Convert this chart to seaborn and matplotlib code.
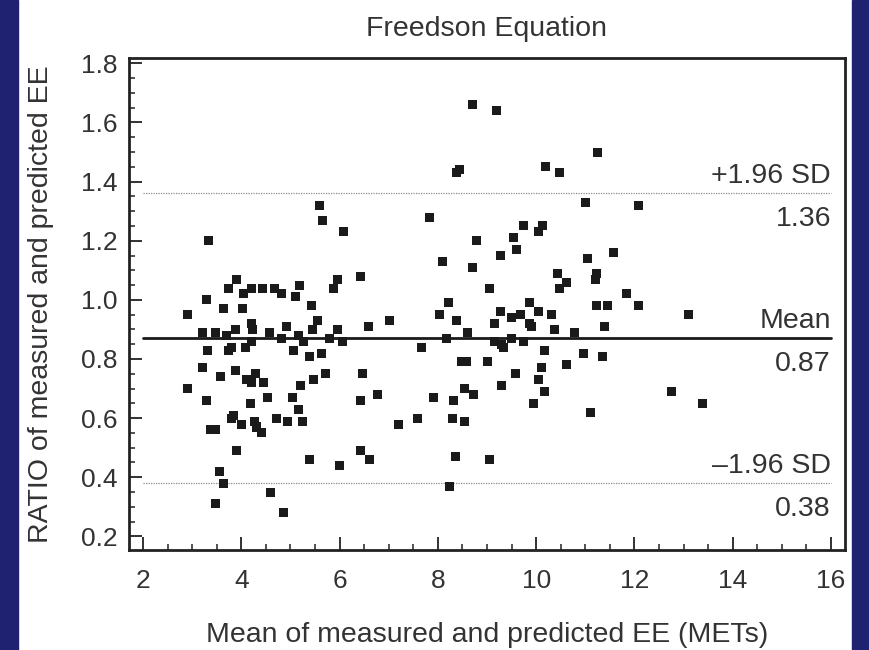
import pandas as pd
import matplotlib.pyplot as plt
import seaborn as sns
from matplotlib.patches import Rectangle
from matplotlib.ticker import MultipleLocator

# Bland-Altman style data: mean of measured/predicted EE (METs) and their ratio
mean_mets = [
    3.34, 5.60, 5.65, 6.07, 6.43, 3.90, 3.74, 4.05, 4.21, 4.44, 4.68, 4.82, 5.18, 5.11, 5.95, 5.88,
    3.30, 2.90, 3.63, 4.02, 5.43, 5.56, 5.44, 4.21, 4.23, 4.91, 3.22, 3.48, 3.70, 3.89, 4.58, 4.82,
    5.16, 5.27, 5.79, 5.95, 6.06, 6.58, 7.02,
    3.73, 3.80, 3.32, 4.09, 4.21, 5.07, 5.38, 5.63, 3.21, 3.89, 3.58, 2.90, 4.11, 4.21, 4.29, 4.46,
    5.72, 5.46, 5.20, 5.05, 4.54, 4.19, 3.30, 6.47, 6.43, 5.16, 5.25, 4.95, 4.72, 3.85, 3.80, 4.01,
    4.27, 4.31, 4.41, 3.37, 3.47, 3.91, 5.39, 5.99, 6.43, 6.60, 3.56, 3.63, 4.59, 3.48, 4.86, 6.78,
    7.19, 7.58, 7.92,
    8.71, 9.19, 11.24, 8.38, 8.45, 10.20, 10.48, 11.00, 7.84, 9.74, 10.13, 10.04, 9.53, 8.79, 9.61,
    9.28, 11.04, 8.10, 8.71, 10.43, 10.61, 10.48, 11.22, 11.20, 9.06, 9.86, 8.21, 10.04, 9.28, 8.04,
    8.37, 9.50, 9.68, 10.31, 11.22, 9.15, 9.87, 9.91, 10.38, 10.79, 8.60, 8.18, 9.16, 9.30, 9.33,
    9.50, 9.74, 7.67, 10.18, 10.97, 11.35, 8.48, 8.58, 9.02, 10.62, 10.11, 9.57, 10.04, 9.30, 10.18,
    8.55, 8.72, 8.31, 9.94, 11.11, 8.30, 8.55, 8.35, 9.06, 8.24, 12.08, 11.57, 11.84, 11.45, 12.08,
    13.10, 11.40, 12.76, 13.39,
]
ratio = [
    1.20, 1.32, 1.27, 1.23, 1.08, 1.07, 1.04, 1.02, 1.04, 1.04, 1.04, 1.02, 1.05, 1.01, 1.07, 1.04,
    1.00, 0.95, 0.97, 0.97, 0.98, 0.93, 0.90, 0.92, 0.90, 0.91, 0.89, 0.89, 0.88, 0.90, 0.89, 0.87,
    0.88, 0.86, 0.87, 0.90, 0.86, 0.91, 0.93,
    0.83, 0.84, 0.83, 0.84, 0.86, 0.83, 0.81, 0.82, 0.77, 0.76, 0.74, 0.70, 0.73, 0.72, 0.75, 0.72,
    0.75, 0.73, 0.71, 0.67, 0.67, 0.65, 0.66, 0.75, 0.66, 0.63, 0.59, 0.59, 0.60, 0.61, 0.60, 0.58,
    0.59, 0.57, 0.55, 0.56, 0.56, 0.49, 0.46, 0.44, 0.49, 0.46, 0.42, 0.38, 0.35, 0.31, 0.28, 0.68,
    0.58, 0.60, 0.67,
    1.66, 1.64, 1.50, 1.43, 1.44, 1.45, 1.43, 1.33, 1.28, 1.25, 1.25, 1.23, 1.21, 1.20, 1.17,
    1.15, 1.14, 1.13, 1.11, 1.09, 1.06, 1.04, 1.09, 1.07, 1.04, 0.99, 0.99, 0.96, 0.96, 0.95,
    0.93, 0.94, 0.95, 0.95, 0.98, 0.92, 0.92, 0.91, 0.90, 0.89, 0.89, 0.87, 0.86, 0.85, 0.84,
    0.87, 0.86, 0.84, 0.83, 0.82, 0.81, 0.79, 0.79, 0.79, 0.78, 0.77, 0.75, 0.73, 0.71, 0.69,
    0.70, 0.68, 0.66, 0.65, 0.62, 0.60, 0.59, 0.47, 0.46, 0.37, 1.32, 1.16, 1.02, 0.98, 0.98,
    0.95, 0.91, 0.69, 0.65,
]

mean_ratio = 0.87
upper_sd = 1.36
lower_sd = 0.38

df = pd.DataFrame({"mean": mean_mets, "ratio": ratio})

sns.set_style("ticks")
plt.rcParams['font.family'] = ['Liberation Sans', 'DejaVu Sans']

fig = plt.figure(figsize=(8.69, 6.5), dpi=100)
fig.patch.set_facecolor("white")
# dark blue slide borders
navy = "#1f2270"
fig.patches.append(Rectangle((0, 0), 18 / 869, 1, transform=fig.transFigure, color=navy, zorder=0))
fig.patches.append(Rectangle((852 / 869, 0), 17 / 869, 1, transform=fig.transFigure, color=navy, zorder=0))

ax = fig.add_axes([129 / 869, 1 - 550 / 650, (845 - 129) / 869, (550 - 58) / 650])

sns.scatterplot(data=df, x="mean", y="ratio", ax=ax, marker="s", s=42,
                color="#1a1a1a", edgecolor="none", linewidth=0, zorder=3)

ax.plot([2, 16], [mean_ratio, mean_ratio], color="#1a1a1a", lw=2.0, zorder=2)
for v in (upper_sd, lower_sd):
    ax.plot([2, 16], [v, v], color="#8a8a8a", lw=0.9, ls=(0, (1, 1)), zorder=2)

tc = "#333333"
fs = 20.5
tfs = 19
labels = [("+1.96 SD", upper_sd, f"{upper_sd:.2f}"),
          ("Mean", mean_ratio, f"{mean_ratio:.2f}"),
          ("\u20131.96 SD", lower_sd, f"{lower_sd:.2f}")]
for name, v, val in labels:
    ax.annotate(name, (16, v), xytext=(0, 3), textcoords="offset points",
                ha="right", va="bottom", fontsize=fs, color=tc)
    ax.annotate(val, (16, v), xytext=(0, -9), textcoords="offset points",
                ha="right", va="top", fontsize=fs, color=tc)

ax.set_xlim(1.715, 16.285)
ax.set_ylim(0.154, 1.818)
ax.xaxis.set_major_locator(MultipleLocator(2))
ax.xaxis.set_minor_locator(MultipleLocator(0.5))
ax.yaxis.set_major_locator(MultipleLocator(0.2))
ax.yaxis.set_minor_locator(MultipleLocator(0.05))
ax.yaxis.set_major_formatter(plt.FuncFormatter(lambda v, p: f"{v:.1f}"))

ax.tick_params(which="both", direction="in", colors="#222222", labelcolor=tc,
               labelsize=tfs, top=False, right=False)
ax.tick_params(which="major", length=9.5, width=1.3)
ax.tick_params(which="minor", length=4.5, width=1.1)
ax.tick_params(axis="x", which="major", pad=13.5)
ax.tick_params(axis="y", which="major", pad=8)

for s in ax.spines.values():
    s.set_linewidth(2.0)
    s.set_color("#222222")

ax.set_title("Freedson Equation", fontsize=fs, color=tc, pad=15.5)
ax.set_xlabel("Mean of measured and predicted EE (METs)", fontsize=fs, color=tc, labelpad=21)
ax.set_ylabel("RATIO of measured and predicted EE", fontsize=fs, color=tc, labelpad=19.5)

plt.savefig("out.png", dpi=100)
